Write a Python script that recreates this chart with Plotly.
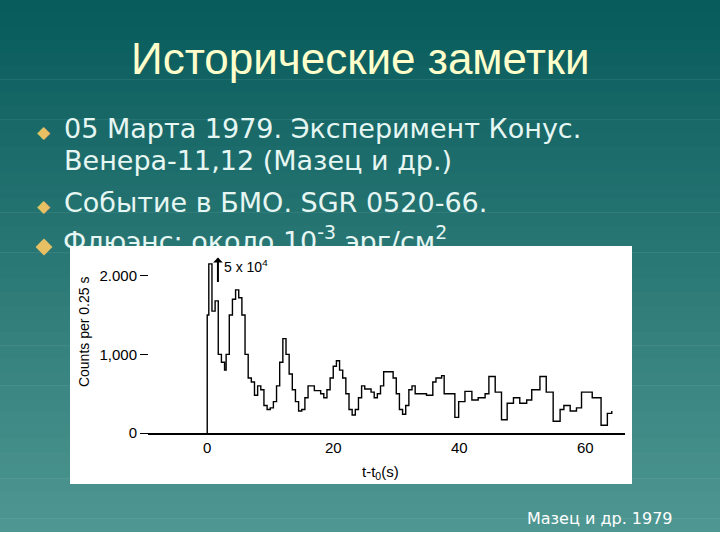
import plotly.graph_objects as go

t = [0, 0, 0.25, 0.75, 1.25, 1.75, 2.25, 2.75, 3.0, 3.5, 4.0, 4.5, 5.0, 5.5, 6.0, 6.5, 7.0, 7.5, 8.0, 8.5, 9.0, 9.5, 10.0, 10.5, 11.0, 11.5, 12.0, 12.5, 13.0, 13.5, 14.0, 14.5, 15.0, 15.5, 16.0, 17.0, 18.0, 18.5, 19.0, 19.5, 20.0, 20.5, 21.0, 21.5, 22.0, 22.5, 23.0, 23.5, 24.0, 24.5, 25.0, 26.0, 26.5, 27.0, 27.5, 28.0, 29.0, 29.5, 30.0, 30.5, 31.0, 31.5, 32.0, 32.5, 33.0, 34.8, 35.8, 36.3, 37.2, 37.6, 39.3, 39.9, 40.9, 42.0, 43.0, 44.1, 44.7, 45.7, 46.7, 47.6, 48.6, 49.6, 50.7, 51.5, 52.8, 53.8, 54.9, 56.0, 56.6, 57.6, 58.6, 59.4, 61.1, 62.5, 63.5, 64.2]
counts = [0, 1500, 2150, 1550, 1680, 1000, 900, 800, 1000, 1500, 1700, 1820, 1720, 1500, 1000, 700, 650, 480, 600, 550, 350, 300, 320, 400, 600, 900, 1200, 1000, 750, 550, 400, 280, 300, 450, 600, 540, 500, 450, 550, 700, 850, 920, 800, 700, 500, 300, 230, 300, 450, 600, 560, 520, 450, 500, 600, 780, 780, 700, 500, 300, 240, 350, 550, 600, 500, 480, 650, 700, 730, 500, 200, 400, 530, 420, 450, 500, 720, 520, 170, 380, 450, 380, 420, 550, 720, 520, 150, 300, 350, 280, 320, 520, 450, 100, 250, 280]
xtick_vals = [0, 20, 40, 60]
ytick_vals = [0, 1000, 2000]
ytick_text = ["0", "1,000", "2.000"]

W, H = 720, 540
K = 1 / 0.985
TXT = "#e6f6f2"
BUL = "#e8c064"
fig = go.Figure()

def Y(y):
    return y * K

# background slide layer (pixel coordinates)
fig.add_trace(go.Scatter(x=[63], y=[Y(244)], mode="text",
    text=["Флюэнс: около 10<sup>-3</sup> эрг/см<sup>2</sup>"], textposition="middle right",
    textfont=dict(family="DejaVu Sans", size=27, color=TXT), xaxis="x", yaxis="y", hoverinfo="skip"))
fig.add_trace(go.Scatter(x=[44], y=[Y(247)], mode="markers", marker=dict(symbol="diamond", size=13, color=BUL),
    xaxis="x", yaxis="y", hoverinfo="skip"))
fig.add_trace(go.Scatter(x=[70, 632, 632, 70, 70], y=[Y(246), Y(246), Y(484), Y(484), Y(246)], fill="toself",
    fillcolor="white", mode="lines", line=dict(width=0, color="white"), xaxis="x", yaxis="y", hoverinfo="skip"))

# chart
fig.add_trace(go.Scatter(x=t, y=counts, mode="lines", line=dict(shape="hv", color="black", width=1.4),
    xaxis="x2", yaxis="y2"))

shapes = []
n = 40
c0, c1 = (8, 92, 92), (78, 150, 145)
for i in range(n):
    f = i / (n - 1)
    col = "rgb(%d,%d,%d)" % tuple(int(a + (b - a) * f) for a, b in zip(c0, c1))
    shapes.append(dict(type="rect", xref="paper", yref="paper", x0=0, x1=1,
                       y0=1 - (i + 1) / n, y1=1 - i / n + 0.001, fillcolor=col, line_width=0, layer="below"))

ann = []
def txt(x, y, s, size, color, xanchor="left", family="DejaVu Sans"):
    ann.append(dict(x=x / W, y=1 - Y(y) / H, xref="paper", yref="paper", text=s, showarrow=False,
                    xanchor=xanchor, yanchor="middle", font=dict(size=size, color=color, family=family)))

txt(360, 58, "Исторические заметки", 44, "#ffffcc", "center", "Liberation Sans")
for yy, s in [(128, "05 Марта 1979. Эксперимент Конус."), (160, "Венера-11,12 (Мазец и др.)"), (202, "Событие в БМО. SGR 0520-66.")]:
    txt(62, yy, s, 27, TXT)
for yy in [131, 205]:
    ann.append(dict(x=44 / W, y=1 - Y(yy) / H, xref="paper", yref="paper", text="◆", showarrow=False,
                    xanchor="center", yanchor="middle", font=dict(size=17, color=BUL)))
txt(675, 518, "Мазец и др. 1979", 16, "white", "right")
txt(222, 266, "5 x 10<sup>4</sup>", 14, "black", "left", "Liberation Sans")
ann.append(dict(x=1.7, y=2230, xref="x2", yref="y2", ax=1.7, ay=1900, axref="x2", ayref="y2",
                showarrow=True, arrowhead=1, arrowsize=0.8, arrowwidth=2, arrowcolor="black", text=""))
txt(380, 472, "t-t<sub>0</sub>(s)", 15, "black", "center", "Liberation Sans")
ann.append(dict(x=84 / W, y=1 - Y(332) / H, xref="paper", yref="paper", text="Counts per 0.25 s", textangle=-90,
                xanchor="center", yanchor="middle",
                showarrow=False, font=dict(size=14, color="black", family="Liberation Sans")))

fig.update_layout(
    width=W, height=H, margin=dict(l=0, r=0, t=0, b=0), showlegend=False,
    paper_bgcolor="rgba(0,0,0,0)", plot_bgcolor="rgba(0,0,0,0)",
    shapes=shapes, annotations=ann,
    xaxis=dict(domain=[0, 1], range=[0, W], visible=False, fixedrange=True),
    yaxis=dict(domain=[0, 1], range=[H, 0], visible=False, fixedrange=True),
    xaxis2=dict(domain=[148 / W, 625 / W], range=[-9.4, 66.3], anchor="y2", showgrid=False, zeroline=False,
                showline=True, linecolor="black", linewidth=2, tickvals=xtick_vals, ticks="outside", ticklen=0,
                tickfont=dict(size=15, family="Liberation Sans", color="black")),
    yaxis2=dict(domain=[1 - Y(433) / H, 1 - Y(256) / H], range=[0, 2250], anchor="free", position=148 / W,
                showgrid=False, zeroline=False, showline=False, tickvals=ytick_vals, ticktext=ytick_text,
                ticks="outside", ticklen=8, tickcolor="black",
                tickfont=dict(size=15, family="Liberation Sans", color="black")),
)
fig.write_html("out.html", config={"displayModeBar": False}, post_script="document.body.style.margin='0';")
